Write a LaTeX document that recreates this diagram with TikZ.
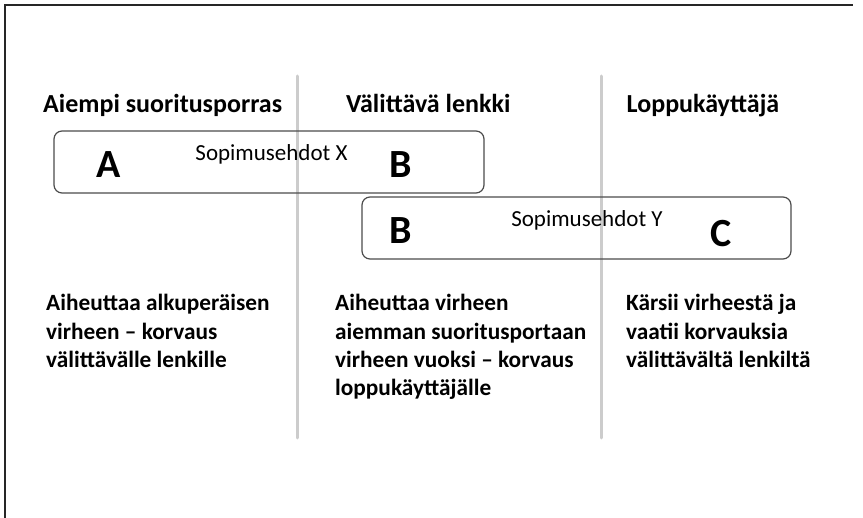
\documentclass[tikz,border=0pt]{standalone}
\usepackage{fontspec}
\setmainfont{Carlito}
\newcommand{\desclines}[1]{\begin{tabular}[t]{@{}l@{}}#1\end{tabular}}
\begin{document}
\begin{tikzpicture}[x=1pt,y=-1pt,
  frame/.style={draw=black!85, line width=2pt},
  sep/.style={draw=black!20, line width=3pt, line cap=round},
  cbox/.style={draw=black!70, line width=1.2pt, rounded corners=8pt, inner sep=0pt},
  head/.style={anchor=base west, inner sep=0pt, font=\fontsize{26}{31}\selectfont\bfseries},
  big/.style={anchor=base, inner sep=0pt, font=\fontsize{40}{48}\selectfont\bfseries},
  term/.style={anchor=base, inner sep=0pt, font=\fontsize{23}{28}\selectfont},
  desc/.style={anchor=base west, inner sep=0pt, font=\fontsize{23.3}{28.2}\selectfont\bfseries},
]
\useasboundingbox (0,0) rectangle (863,518);
% frame (top and left only)
\coordinate (fbl) at (5,518);
\coordinate (ftl) at (5,5);
\coordinate (ftr) at (853,5);
\draw[frame] (fbl) -- (ftl) -- (ftr);
% separators
\coordinate (s1t) at (297,76);
\coordinate (s1b) at (297,438);
\coordinate (s2t) at (601,76);
\coordinate (s2b) at (601,438);
\draw[sep] (s1t) -- (s1b);
\draw[sep] (s2t) -- (s2b);
% headings
\node[head] (h1) at (43,113) {Aiempi suoritusporras};
\node[head] (h2) at (346,113) {Välittävä lenkki};
\node[head] (h3) at (626.5,113) {Loppukäyttäjä};
% boxes
\node[cbox, minimum width=430pt, minimum height=62pt] (boxX) at (269,162) {};
\node[cbox, minimum width=429pt, minimum height=62pt] (boxY) at (576.5,228) {};
% box contents
\node[big] (a1) at (108.5,178) {A};
\node[big] (b1) at (400.5,178) {B};
\node[term] (tx) at (271.5,161) {Sopimusehdot X};
\node[big] (b2) at (400.5,244) {B};
\node[big] (c2) at (721.5,247) {C};
\node[term] (ty) at (587,227) {Sopimusehdot Y};
% descriptions
\node[desc] (d1) at (46,311) {\desclines{Aiheuttaa alkuperäisen\\virheen – korvaus\\välittävälle lenkille}};
\node[desc] (d2) at (335,311) {\desclines{Aiheuttaa virheen\\aiemman suoritusportaan\\virheen vuoksi – korvaus\\loppukäyttäjälle}};
\node[desc] (d3) at (626,311) {\desclines{Kärsii virheestä ja\\vaatii korvauksia\\välittävältä lenkiltä}};
\end{tikzpicture}
\end{document}
